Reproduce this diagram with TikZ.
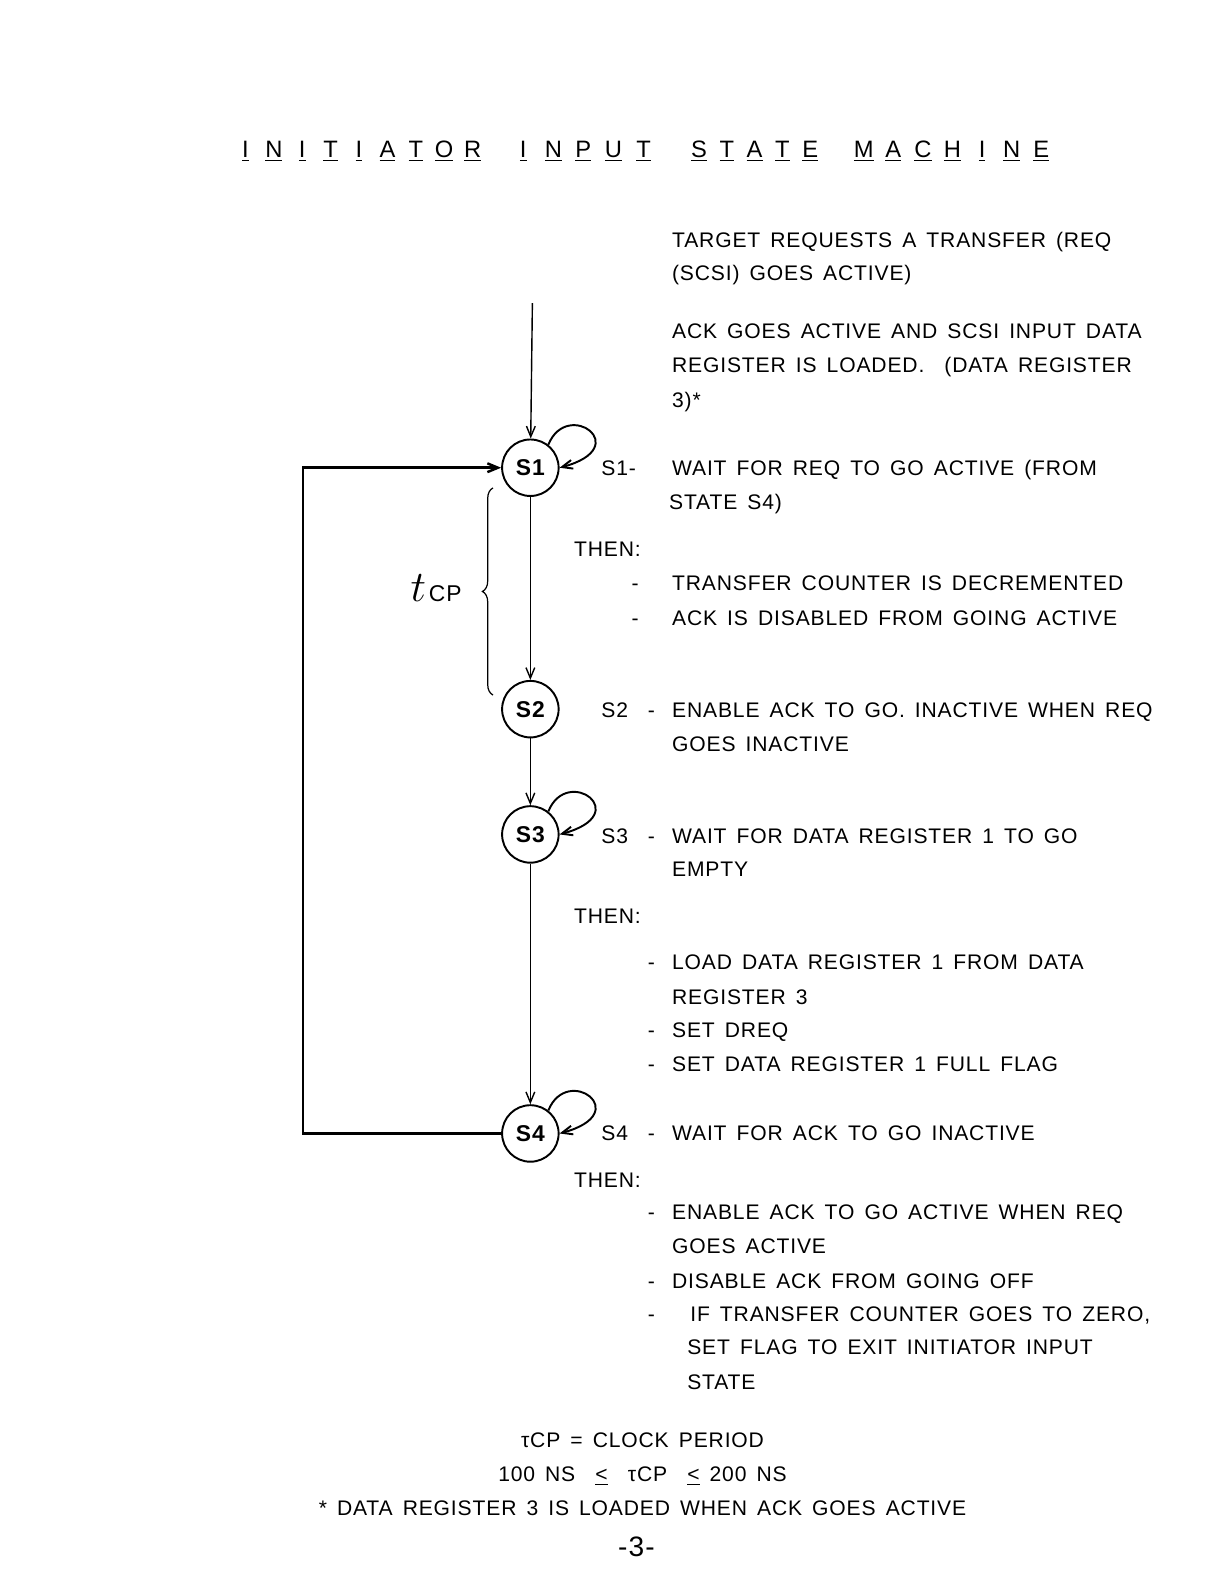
\documentclass[tikz,border=0pt]{standalone}
\usepackage{fontspec}
\setmainfont{Liberation Sans}[LetterSpace=4, WordSpace=1.5]
\usepackage{tikz}
\usetikzlibrary{arrows.meta,positioning,calc,decorations.pathreplacing}

\begin{document}
\begin{tikzpicture}[x=0.0202cm, y=-0.0202cm, >={Straight Barb[length=6pt,width=5pt]},
  state/.style={circle, draw, line width=1.1pt, minimum size=1.13cm, inner sep=0pt,
    font=\fontsize{13}{13}\selectfont\bfseries},
  txt/.style={anchor=base west, inner sep=0pt, font=\fontsize{12}{12}\selectfont},
  mid/.style={anchor=base, inner sep=0pt, font=\fontsize{12}{12}\selectfont},
  flow/.style={->, line width=0.8pt},
  selfloop/.style={->, line width=1.1pt}]

\fill[white] (0,0) rectangle (1212,1568);
\useasboundingbox (0,0) rectangle (1212,1568);

% ---------- title, one underlined letter at a time
\foreach \xo/\dx/\word [count=\w] in {243/28.1/{I,N,I,T,I,A,T,O,R}, 518/29.75/{I,N,P,U,T},
                                      692/27.5/{S,T,A,T,E}, 855/29.3/{M,A,C,H,I,N,E}}{
  \foreach \c [count=\i from 0] in \word{
    \node[mid, font=\fontsize{13.5}{13.5}\selectfont] (title\w-\i) at (\xo+\i*\dx,156) {\underline{\c}};
  }
}

% ---------- states
\node[state] (s1) at (525,463) {S1};
\node[state] (s2) at (525,702) {S2};
\node[state] (s3) at (525,826) {S3};
\node[state] (s4) at (525,1122) {S4};

\coordinate (entry) at (527,300);
\coordinate (fbl) at (300,1122);
\coordinate (fbu) at (300,463);

\draw[flow] (entry) -- (s1);
\draw[flow] (s1) -- (s2);
\draw[flow] (s2) -- (s3);
\draw[flow] (s3) -- (s4);
\draw[flow, line width=1.4pt] (s4.west) -- (fbl) -- (fbu) -- (s1.west);

\foreach \s in {s1,s3,s4}{
  \draw[selfloop] (\s.52) .. controls +(-68:50) and +(-15:78) .. (\s.0);
}

% ---------- clock period brace
\coordinate (bb) at (488,688);
\coordinate (bt) at (488,483);
\draw[line width=0.7pt, decorate, decoration={brace, amplitude=6pt}] (bb) -- (bt);
\node[anchor=base west, inner sep=0pt] (tcp) at (406,595)
  {{\fontsize{28}{28}\selectfont$t$}\,{\fontsize{13}{13}\selectfont CP}};

% ---------- right column
\foreach \x/\y/\t [count=\k] in {
    665/245/{TARGET REQUESTS A TRANSFER (REQ},
    665/278/{(SCSI) GOES ACTIVE)},
    665/335/{ACK GOES ACTIVE AND SCSI INPUT DATA},
    665/369/{REGISTER IS LOADED.\ \ (DATA REGISTER},
    665/403/{3)*},
    595/471/{S1-},
    665/471/{WAIT FOR REQ TO GO ACTIVE (FROM},
    662/504/{STATE S4)},
    568/551/{THEN:},
    625/585/{-},
    665/585/{TRANSFER COUNTER IS DECREMENTED},
    625/619/{-},
    665/619/{ACK IS DISABLED FROM GOING ACTIVE},
    595/710/{S2},
    641/710/{-},
    665/710/{ENABLE ACK TO GO. INACTIVE WHEN REQ},
    665/744/{GOES INACTIVE},
    595/835/{S3},
    641/835/{-},
    665/835/{WAIT FOR DATA REGISTER 1 TO GO},
    665/868/{EMPTY},
    568/914/{THEN:},
    641/960/{-},
    665/960/{LOAD DATA REGISTER 1 FROM DATA},
    665/994/{REGISTER 3},
    641/1027/{-},
    665/1027/{SET DREQ},
    641/1061/{-},
    665/1061/{SET DATA REGISTER 1 FULL FLAG},
    595/1129/{S4},
    641/1129/{-},
    665/1129/{WAIT FOR ACK TO GO INACTIVE},
    568/1175/{THEN:},
    641/1207/{-},
    665/1207/{ENABLE ACK TO GO ACTIVE WHEN REQ},
    665/1241/{GOES ACTIVE},
    641/1275/{-},
    665/1275/{DISABLE ACK FROM GOING OFF},
    641/1308/{-},
    683/1308/{IF TRANSFER COUNTER GOES TO ZERO,},
    680/1341/{SET FLAG TO EXIT INITIATOR INPUT},
    680/1375/{STATE}}{
  \node[txt] (line\k) at (\x,\y) {\t};
}

% ---------- footnotes
\node[mid] (period) at (636,1433) {τCP = CLOCK PERIOD};
\node[mid] (range) at (636,1467)
  {100 NS\ \ \underline{<}\ \ τCP\ \ \underline{<} 200 NS};
\node[mid] (note) at (636,1500) {* DATA REGISTER 3 IS LOADED WHEN ACK GOES ACTIVE};
\node[mid, font=\fontsize{16}{16}\selectfont] (page) at (630,1541) {-3-};

\end{tikzpicture}
\end{document}
